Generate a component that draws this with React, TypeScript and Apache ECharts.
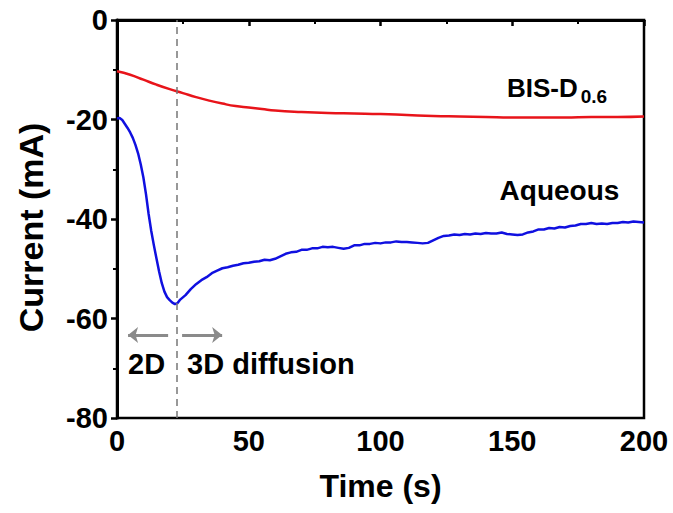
import React, { useEffect, useRef } from "react";
import * as echarts from "echarts";

const timeBIS = [0, 5, 10, 15, 20, 25, 30, 35, 40, 45, 50, 55, 60, 70, 80, 90, 100, 110, 120, 130, 140, 150, 160, 170, 180, 190, 200];
const currentBIS = [-10.3, -11.0, -12.0, -13.0, -13.9, -14.7, -15.5, -16.2, -16.8, -17.3, -17.6, -17.9, -18.2, -18.5, -18.7, -18.8, -18.9, -19.1, -19.3, -19.4, -19.5, -19.6, -19.6, -19.6, -19.5, -19.5, -19.4];

const timeAq = [
  0, 1, 2, 3, 4, 5, 6, 7, 8, 9, 10, 11, 12, 13, 14, 15, 16, 17, 18, 19, 20, 21, 22, 23,
  24, 26, 28, 30, 32, 34, 36, 38, 40, 42, 44, 46, 48, 50, 52, 54, 56, 58, 60, 62, 64, 66, 68, 70,
  72, 74, 76, 78, 80, 82, 84, 86, 88, 90, 92, 94, 96, 98, 100, 102, 104, 106, 108, 110, 112, 114,
  116, 118, 120, 122, 124, 126, 128, 130, 132, 134, 136, 138, 140, 142, 144, 146, 148, 150, 152, 154,
  156, 158, 160, 162, 164, 166, 168, 170, 172, 174, 176, 178, 180, 182, 184, 186, 188, 190, 192, 194,
  196, 198, 200,
];
const currentAq = [
  -19.8, -19.7, -20.1, -20.9, -21.7, -22.6, -23.7, -25.1, -26.8, -29.0, -31.6, -35.0, -39.0, -42.4, -45.3, -48.0, -50.6, -52.9, -54.6, -55.7, -56.3, -56.8, -57.1, -56.9,
  -56.2, -55.3, -54.1, -53.1, -52.3, -51.7, -50.9, -50.4, -49.9, -49.7, -49.4, -49.2, -48.9, -48.8, -48.6, -48.5, -48.2, -48.3, -48.0, -47.5, -47.0, -46.7, -46.6, -46.2,
  -46.2, -45.9, -45.9, -45.6, -45.7, -45.6, -45.8, -46.0, -45.8, -45.3, -45.3, -45.0, -45.0, -44.8, -44.9, -44.7, -44.7, -44.5, -44.6, -44.6, -44.7, -44.8,
  -44.9, -44.8, -44.3, -43.8, -43.4, -43.3, -43.1, -43.2, -43.0, -43.1, -42.9, -43.0, -42.8, -42.9, -42.9, -42.7, -43.0, -43.1, -43.2, -43.1,
  -42.7, -42.5, -42.1, -42.1, -41.8, -41.9, -41.6, -41.7, -41.4, -41.3, -41.0, -41.0, -40.8, -41.0, -40.9, -41.0, -40.8, -40.8, -40.6, -40.7,
  -40.5, -40.6, -40.7,
];

const boundaryTime = 22.5;
const arrowLeft = [19.4, 4.2];
const arrowRight = [24.7, 39.9];
const arrowLevel = -63.3;

const xTicks = [0, 50, 100, 150, 200];
const yTicks = [0, -20, -40, -60, -80];

const FONT = "'Liberation Sans', Arial, sans-serif";

export default function App() {
  const ref = useRef<HTMLDivElement>(null);
  useEffect(() => {
    if (!ref.current) return;
    const chart = echarts.init(ref.current, null, { renderer: "svg" });
    const option: any = {
      animation: false,
      backgroundColor: "#fff",
      grid: { left: 117, right: 29, top: 20, bottom: 95, show: true, borderColor: "#000", borderWidth: 2.5, backgroundColor: "transparent" },
      xAxis: {
        type: "value",
        min: xTicks[0],
        max: xTicks[xTicks.length - 1],
        interval: 50,
        name: "Time (s)",
        nameLocation: "middle",
        nameGap: 52,
        nameTextStyle: { fontSize: 32, fontWeight: "bold", color: "#000", fontFamily: FONT },
        axisLine: { lineStyle: { color: "#000", width: 3 } },
        axisTick: { show: true, inside: false, length: 6, lineStyle: { color: "#000", width: 2.5 } },
        minorTick: { show: true, splitNumber: 2, length: 4, lineStyle: { color: "#000", width: 2 } },
        splitLine: { show: false },
        axisLabel: { fontSize: 29, fontWeight: "bold", color: "#000", fontFamily: FONT, margin: 8 },
      },
      yAxis: {
        type: "value",
        min: yTicks[yTicks.length - 1],
        max: yTicks[0],
        interval: 20,
        axisLine: { lineStyle: { color: "#000", width: 3 } },
        axisTick: { show: true, inside: false, length: 6, lineStyle: { color: "#000", width: 2.5 } },
        minorTick: { show: true, splitNumber: 2, length: 4, lineStyle: { color: "#000", width: 2 } },
        splitLine: { show: false },
        axisLabel: { fontSize: 29, fontWeight: "bold", color: "#000", fontFamily: FONT, margin: 9 },
      },
      series: [
        {
          name: "BIS-D0.6",
          type: "line",
          data: timeBIS.map((t, i) => [t, currentBIS[i]]),
          smooth: true,
          showSymbol: false,
          lineStyle: { color: "#e8141a", width: 2.5 },
          z: 3,
        },
        {
          name: "Aqueous",
          type: "line",
          data: timeAq.map((t, i) => [t, currentAq[i]]),
          smooth: false,
          showSymbol: false,
          lineStyle: { color: "#1010e0", width: 2.5, join: "round" },
          z: 3,
          markLine: {
            silent: true,
            symbol: ["none", "none"],
            label: { show: false },
            lineStyle: { color: "#777", type: [7, 5], width: 1.5 },
            data: [{ xAxis: boundaryTime }],
          },
        },
        {
          name: "arrows",
          type: "line",
          data: [],
          markLine: {
            silent: true,
            symbol: ["none", "arrow"],
            symbolSize: [12, 10],
            label: { show: false },
            lineStyle: { color: "#8a8a8a", type: "solid", width: 3 },
            data: [
              [{ coord: [arrowLeft[0], arrowLevel] }, { coord: [arrowLeft[1], arrowLevel] }],
              [{ coord: [arrowRight[0], arrowLevel] }, { coord: [arrowRight[1], arrowLevel] }],
            ],
          },
        },
      ],
    };
    chart.setOption(option);
    const px = (t: number, v: number) => chart.convertToPixel({ gridIndex: 0 }, [t, v]) as number[];
    const txt = (t: number, v: number, text: string, size: number) => {
      const p = px(t, v);
      return {
        type: "text",
        x: p[0],
        y: p[1],
        style: { text, fontSize: size, fontWeight: "bold", fontFamily: FONT, fill: "#000", align: "left", verticalAlign: "middle" },
        z: 10,
      };
    };
    const mid = px(0, -41.7);
    chart.setOption({
      graphic: [
        txt(148, -13.7, "BIS-D", 26),
        txt(176, -15.4, "0.6", 19),
        txt(145.2, -34.2, "Aqueous", 28),
        txt(4.2, -69.1, "2D", 29),
        txt(26.6, -69.1, "3D diffusion", 29),
        {
          type: "text",
          x: 31,
          y: mid[1],
          rotation: Math.PI / 2,
          style: { text: "Current (mA)", fontSize: 34, fontWeight: "bold", fontFamily: FONT, fill: "#000", align: "center", verticalAlign: "middle" },
          z: 10,
        },
      ],
    });
    return () => chart.dispose();
  }, []);
  return <div ref={ref} style={{ width: 673, height: 513, position: "absolute", left: 0, top: 0 }} />;
}
